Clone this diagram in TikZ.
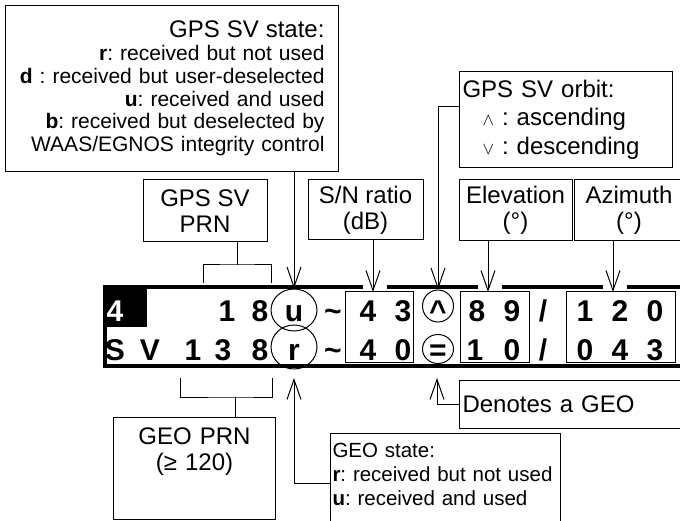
\documentclass[tikz,border=0pt]{standalone}
\usepackage{fontspec}
\setmainfont{Liberation Sans}
\usetikzlibrary{shapes.geometric,arrows.meta}
\frenchspacing
\newcommand{\glyphfont}{\fontsize{30}{30}\selectfont\bfseries}
\newcommand{\boxfont}{\fontsize{24}{26}\selectfont}
\newcommand{\smallboxfont}{\fontsize{21}{22.8}\selectfont}
\newcommand{\fslash}{/}
\tikzstyle{infobox}=[draw,inner sep=3pt,font=\boxfont]
\tikzstyle{cell}=[draw,inner sep=0pt]
\tikzstyle{ring}=[ellipse,draw,inner sep=0pt]
\tikzstyle{glyph}=[font=\glyphfont,inner sep=0pt,anchor=base]
\tikzstyle{thickbar}=[line width=4pt]

\begin{document}
\begin{tikzpicture}[x=1pt,y=-1pt,line width=1pt,>={Straight Barb[length=20pt,width=14pt]}]
  \useasboundingbox (0,0) rectangle (680,521);
  \clip (0,0) rectangle (680,521);

  % display frame
  \fill (103,285) rectangle (147,327);
  \foreach \a/\b in {103/363, 387/478, 502/603, 627/690}
    \draw[thickbar] (\a,287) -- (\b,287);
  \draw[thickbar] (105,285) -- (105,368);
  \draw[thickbar] (103,366) -- (690,366);

  \node[cell,minimum width=68pt,minimum height=70pt] (snCell) at (379,327) {};
  \node[cell,minimum width=69pt,minimum height=70pt] (elCell) at (494.5,327) {};
  \node[cell,minimum width=109pt,minimum height=70pt] (azCell) at (620.5,327) {};

  \node[ring,minimum width=46pt,minimum height=42pt] (uRing) at (294,310) {};
  \node[ring,minimum width=46pt,minimum height=44pt] (rRing) at (294,347) {};
  \node[ring,minimum width=31pt,minimum height=32pt] (caretRing) at (438,306) {};
  \node[ring,minimum width=31pt,minimum height=29pt] (eqRing) at (438,349) {};

  % the two lines of the display
  \node[glyph,text=white] (chan) at (115,322) {4};
  \foreach \x/\ch [count=\i] in {227/1, 260/8, 294/u, 333/\textasciitilde, 368/4, 403/3, 438/\textasciicircum, 477/8, 512/9, 543/\fslash, 585/1, 620/2, 655/0}
    \node[glyph] (top\i) at (\x,322) {\ch};
  \foreach \x/\ch [count=\i] in {115/S, 150/V, 193/1, 223/3, 260/8, 294/r, 333/\textasciitilde, 368/4, 403/0, 438/=, 475/1, 512/0, 543/\fslash, 585/0, 620/4, 655/3}
    \node[glyph] (bot\i) at (\x,360) {\ch};

  % callouts above
  \node[infobox,font=\smallboxfont,text width=305pt,inner xsep=14pt,minimum height=166pt,align=right,anchor=north west] (svstate) at (5,5)
    {{\fontsize{24}{22.8}\selectfont GPS SV state:}\\
     \textbf{r}: received but not used\\
     \textbf{d} : received but user-deselected\\
     \textbf{u}: received and used\\
     \textbf{b}: received but deselected by\\
     WAAS/EGNOS integrity control};
  \node[infobox,minimum width=124pt,minimum height=62pt,align=center] (prn) at (205,211) {GPS SV\\PRN};
  \node[infobox,minimum width=115pt,minimum height=60pt,align=center] (snr) at (365.5,210) {S/N ratio\\(dB)};
  \node[infobox,font=\fontsize{24}{28.5}\selectfont,text width=207pt,minimum height=96pt,align=left,anchor=north west] (orbit) at (459,71)
    {GPS SV orbit:\\
     \hspace*{20pt}$\scriptstyle\wedge$ : ascending\\
     \hspace*{20pt}$\scriptstyle\vee$ : descending};
  \node[infobox,minimum width=113pt,minimum height=61pt,align=center] (elev) at (515.5,210.5) {Elevation\\(°)};
  \node[infobox,minimum width=110pt,minimum height=61pt,align=center] (azim) at (629,210.5) {Azimuth\\(°)};

  % callouts below
  \node[infobox,text width=220pt,minimum height=48pt,align=left,anchor=north west] (geo) at (459,380) {Denotes a GEO};
  \node[infobox,text width=156pt,minimum height=102pt,align=center,anchor=north west] (geoprn) at (113,417)
    {GEO PRN\\(≥ 120)\\\rule{0pt}{32pt}};
  \node[infobox,font=\fontsize{20.5}{24}\selectfont,text width=226pt,inner xsep=2pt,inner ysep=10pt,align=left,anchor=north west] (geostate) at (330,433)
    {GEO state:\\
     \textbf{r}: received but not used\\
     \textbf{u}: received and used\\\rule{0pt}{30pt}};

  % brackets
  \coordinate (prnJoin) at (237,265);
  \coordinate (prnLeft) at (203,283);
  \coordinate (prnRight) at (271,283);
  \draw (prn.south -| prnJoin) -- (prnJoin);
  \draw (prnLeft) |- (prnJoin) -| (prnRight);

  \coordinate (geoJoin) at (235,397);
  \coordinate (geoLeft) at (180,378);
  \coordinate (geoRight) at (272,378);
  \draw (geoprn.north -| geoJoin) -- (geoJoin);
  \draw (geoLeft) |- (geoJoin) -| (geoRight);

  % pointers
  \coordinate (snTip) at (373,292);
  \coordinate (elTip) at (488,292);
  \coordinate (azTip) at (613,292);
  \coordinate (orbitBend) at (437,107);
  \coordinate (rBend) at (294,483);
  \coordinate (rTip) at (294,378);
  \coordinate (eqTip) at (437,378);

  \draw[->] (svstate.south -| uRing.north) -- (uRing.north);
  \draw[->] (snr.south -| snTip) -- (snTip);
  \draw[->] (orbit.west |- orbitBend) -| (caretRing.north);
  \draw[->] (elev.south -| elTip) -- (elTip);
  \draw[->] (azim.south -| azTip) -- (azTip);
  \draw[->] (geostate.west |- rBend) -| (rTip);
  \draw[->] (geo.west) -| (eqTip);
\end{tikzpicture}
\end{document}
